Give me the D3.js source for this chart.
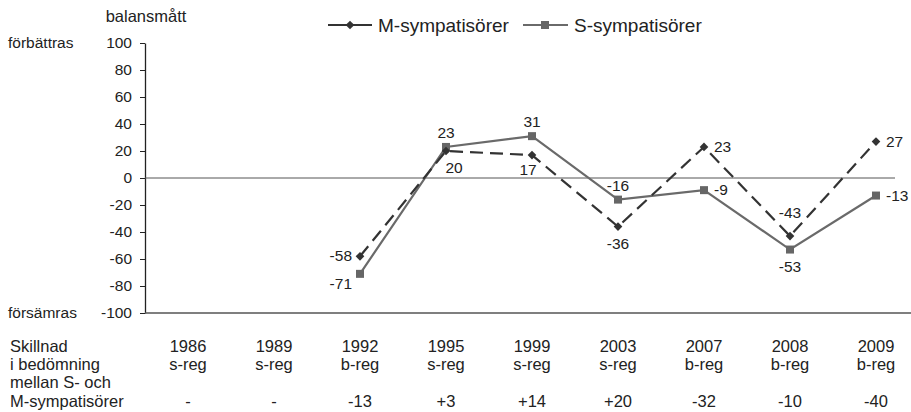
<!DOCTYPE html>
<html>
<head>
<meta charset="utf-8">
<script src="https://cdn.jsdelivr.net/npm/d3@7"></script>
<style>
  body { margin: 0; background: #fff; }
  svg { font-family: "Liberation Sans", Arial, Helvetica, sans-serif; }
</style>
</head>
<body>
<svg class="chart"></svg>
<script>
var years = ["1986", "1989", "1992", "1995", "1999", "2003", "2007", "2008", "2009"];
var regering = ["s-reg", "s-reg", "b-reg", "s-reg", "s-reg", "s-reg", "b-reg", "b-reg", "b-reg"];
var skillnad = ["-", "-", "-13", "+3", "+14", "+20", "-32", "-10", "-40"];
var mValues = [null, null, -58, 20, 17, -36, 23, -43, 27];
var sValues = [null, null, -71, 23, 31, -16, -9, -53, -13];
var yTicks = [-100, -80, -60, -40, -20, 0, 20, 40, 60, 80, 100];
var rowLabels = ["Skillnad", "i bedömning", "mellan S- och", "M-sympatisörer"];

// where each point label sits relative to its marker
var mPlace = [null, null, "left", "belowR", "belowL", "below", "right", "above2", "right"];
var sPlace = [null, null, "leftLow", "above", "above", "above", "right", "below", "right"];

let w = 911, h = 412;
let padLeft = 145, padTop = 43, padBottom = 313;

var svg = d3.select(".chart").attr("width", w).attr("height", h);

var x = d3.scaleBand().domain(years).range([padLeft, 919]);
var y = d3.scaleLinear().domain([-100, 100]).range([padBottom, padTop]);
var cx = d => x(d) + x.bandwidth() / 2;

// y axis
var yAxis = svg.append("g")
  .attr("transform", "translate(" + padLeft + ",0)")
  .call(d3.axisLeft(y).tickValues(yTicks).tickFormat(d => String(d))
    .tickSize(5).tickSizeOuter(0).tickPadding(8));
yAxis.select(".domain").attr("stroke", "#222").attr("stroke-width", 1.3);
yAxis.selectAll(".tick line").attr("stroke", "#222");
yAxis.selectAll("text").attr("font-size", 15.5).attr("fill", "#222")
  .attr("font-family", "'Liberation Sans', Arial, sans-serif");

// bottom line and zero line
svg.append("line").attr("x1", padLeft).attr("x2", w).attr("y1", y(-100)).attr("y2", y(-100))
  .attr("stroke", "#555").attr("stroke-width", 1.3);
svg.append("line").attr("x1", padLeft).attr("x2", 895).attr("y1", y(0)).attr("y2", y(0))
  .attr("stroke", "#555").attr("stroke-width", 1);

// axis texts
svg.append("text").attr("x", 146).attr("y", 22).attr("text-anchor", "middle")
  .attr("font-size", 16.5).attr("fill", "#222").text("balansmått");
svg.append("text").attr("x", 8).attr("y", 48).attr("font-size", 15.5).attr("fill", "#222").text("förbättras");
svg.append("text").attr("x", 8).attr("y", 318).attr("font-size", 15.5).attr("fill", "#222").text("försämras");

// lines
var mData = years.map((d, i) => ({ year: d, v: mValues[i], p: mPlace[i] })).filter(d => d.v !== null);
var sData = years.map((d, i) => ({ year: d, v: sValues[i], p: sPlace[i] })).filter(d => d.v !== null);
var line = d3.line().x(d => cx(d.year)).y(d => y(d.v));

svg.append("path").datum(sData).attr("d", line).attr("fill", "none")
  .attr("stroke", "#6a6a6a").attr("stroke-width", 2.2);
svg.append("path").datum(mData).attr("d", line).attr("fill", "none")
  .attr("stroke", "#333").attr("stroke-width", 2.2).attr("stroke-dasharray", "13,7");

svg.selectAll(".sq").data(sData).enter().append("rect")
  .attr("x", d => cx(d.year) - 4).attr("y", d => y(d.v) - 4)
  .attr("width", 8).attr("height", 8).attr("fill", "#666");
svg.selectAll(".dm").data(mData).enter().append("path")
  .attr("d", d3.symbol().type(d3.symbolDiamond2).size(48))
  .attr("transform", d => "translate(" + cx(d.year) + "," + y(d.v) + ")")
  .attr("fill", "#333");

// point labels: [dx, dy, anchor]
var offs = {
  left: [-8, 5, "end"], leftLow: [-8, 15, "end"], right: [10, 5, "start"],
  above: [0, -9, "middle"], above2: [0, -18, "middle"],
  below: [0, 22, "middle"], belowR: [8, 22, "middle"], belowL: [-4, 20, "middle"]
};
function labels(data, cls) {
  svg.selectAll("." + cls).data(data).enter().append("text")
    .attr("x", d => cx(d.year) + offs[d.p][0])
    .attr("y", d => y(d.v) + offs[d.p][1])
    .attr("text-anchor", d => offs[d.p][2])
    .attr("font-size", 15.5).attr("fill", "#222")
    .text(d => d.v);
}
labels(mData, "ml");
labels(sData, "sl");

// legend
var lg = svg.append("g");
lg.append("line").attr("x1", 328).attr("x2", 372).attr("y1", 25).attr("y2", 25)
  .attr("stroke", "#333").attr("stroke-width", 2.2);
lg.append("path").attr("d", d3.symbol().type(d3.symbolDiamond2).size(48))
  .attr("transform", "translate(350,25)").attr("fill", "#333");
lg.append("text").attr("x", 378).attr("y", 32).attr("font-size", 19).attr("fill", "#222").text("M-sympatisörer");
lg.append("line").attr("x1", 523).attr("x2", 568).attr("y1", 25).attr("y2", 25)
  .attr("stroke", "#6a6a6a").attr("stroke-width", 2.2);
lg.append("rect").attr("x", 541).attr("y", 21).attr("width", 8).attr("height", 8).attr("fill", "#666");
lg.append("text").attr("x", 574).attr("y", 32).attr("font-size", 19).attr("fill", "#222").text("S-sympatisörer");

// table below
var rowY = [352, 370, 388, 407];
svg.selectAll(".rl").data(rowLabels).enter().append("text")
  .attr("x", 10).attr("y", (d, i) => rowY[i]).attr("font-size", 16.5).attr("fill", "#222").text(d => d);
[years, regering, skillnad].forEach(function(arr, r) {
  svg.selectAll(".c" + r).data(arr).enter().append("text")
    .attr("x", (d, i) => cx(years[i])).attr("y", [rowY[0], rowY[1], rowY[3]][r])
    .attr("text-anchor", "middle").attr("font-size", 16.5).attr("fill", "#222").text(d => d);
});
</script>
</body>
</html>
